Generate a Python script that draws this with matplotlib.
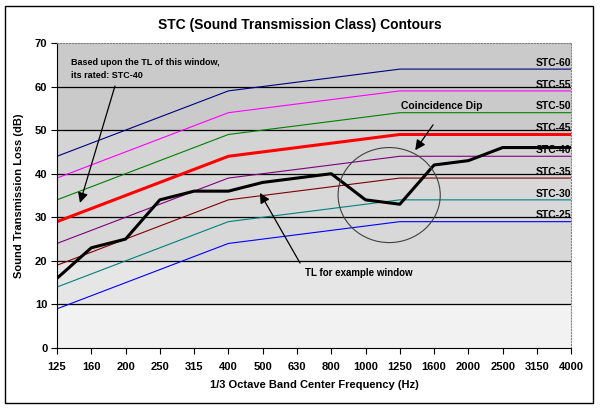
import numpy as np
import matplotlib
matplotlib.use("Agg")
import matplotlib.pyplot as plt
from matplotlib.patches import Ellipse, Rectangle

plt.rcParams['font.family'] = ['Liberation Sans', 'DejaVu Sans']
plt.rcParams['font.weight'] = 'bold'

freqs = ['125', '160', '200', '250', '315', '400', '500', '630', '800',
         '1000', '1250', '1600', '2000', '2500', '3150', '4000']

stc60 = [44, 47, 50, 53, 56, 59, 60, 61, 62, 63, 64, 64, 64, 64, 64, 64]
stc55 = [39, 42, 45, 48, 51, 54, 55, 56, 57, 58, 59, 59, 59, 59, 59, 59]
stc50 = [34, 37, 40, 43, 46, 49, 50, 51, 52, 53, 54, 54, 54, 54, 54, 54]
stc45 = [29, 32, 35, 38, 41, 44, 45, 46, 47, 48, 49, 49, 49, 49, 49, 49]
stc40 = [24, 27, 30, 33, 36, 39, 40, 41, 42, 43, 44, 44, 44, 44, 44, 44]
stc35 = [19, 22, 25, 28, 31, 34, 35, 36, 37, 38, 39, 39, 39, 39, 39, 39]
stc30 = [14, 17, 20, 23, 26, 29, 30, 31, 32, 33, 34, 34, 34, 34, 34, 34]
stc25 = [9, 12, 15, 18, 21, 24, 25, 26, 27, 28, 29, 29, 29, 29, 29, 29]
tl_window = [16, 23, 25, 34, 36, 36, 38, 39, 40, 34, 33, 42, 43, 46, 46, 46]

contours = [('STC-60', stc60, '#000080', 0.8),
            ('STC-55', stc55, '#ff00ff', 0.8),
            ('STC-50', stc50, '#008000', 0.8),
            ('STC-45', stc45, '#ff0000', 2.2),
            ('STC-40', stc40, '#800080', 0.8),
            ('STC-35', stc35, '#800000', 0.8),
            ('STC-30', stc30, '#008080', 0.8),
            ('STC-25', stc25, '#0000ff', 0.8)]

fig = plt.figure(figsize=(6, 4.09), dpi=100)
ax = fig.add_axes([0.095, 0.149, 0.857, 0.746])

x = np.arange(len(freqs))

# shaded background bands (rough stand-in for the dithered fill)
bands = [(0, 10, '#f2f2f2'), (10, 20, '#e6e6e6'), (20, 40, '#d8d8d8'),
         (40, 50, '#d4d4d4'), (50, 70, '#cacaca')]
for lo, hi, c in bands:
    ax.axhspan(lo, hi, color=c, lw=0, zorder=0)

for yv in range(10, 70, 10):
    ax.axhline(yv, color='black', lw=0.9, zorder=1)

for name, vals, col, lw in contours:
    ax.plot(x, vals, color=col, lw=lw, zorder=2)
    ax.text(x[-1], vals[-1] + 0.3, name, ha='right', va='bottom',
            fontsize=7.5, fontweight='bold', zorder=4)

ax.plot(x, tl_window, color='black', lw=2.2, zorder=3)

ax.add_patch(Ellipse((9.69, 35.1), 2.98, 21.8, fill=False,
                     edgecolor='#404040', lw=0.8, zorder=3))

arrow = dict(arrowstyle='-|>', color='black', lw=0.9,
             mutation_scale=15, shrinkA=0, shrinkB=0)
ax.annotate('', xy=(0.67, 33.3), xytext=(1.69, 60.1), arrowprops=arrow, zorder=5)
ax.annotate('', xy=(10.45, 45.4), xytext=(10.97, 51.2), arrowprops=arrow, zorder=5)
ax.annotate('', xy=(5.92, 35.6), xytext=(7.09, 19.5), arrowprops=arrow, zorder=5)

ax.text(0.41, 64.1, 'Based upon the TL of this window,\nits rated: STC-40',
        fontsize=6.5, fontweight='bold', ha='left', va='center', linespacing=1.6)
ax.text(10.04, 55.5, 'Coincidence Dip', fontsize=7.5, fontweight='bold',
        ha='left', va='center')
ax.text(7.24, 17.2, 'TL for example window', fontsize=7, fontweight='bold',
        ha='left', va='center')

ax.set_xlim(0, 15)
ax.set_ylim(0, 70)
ax.set_xticks(x)
ax.set_xticklabels(freqs, fontsize=8, fontweight='bold')
ax.set_yticks(range(0, 71, 10))
ax.set_yticklabels([str(v) for v in range(0, 71, 10)], fontsize=8, fontweight='bold')
ax.tick_params(length=4, width=0.8, pad=6)
ax.tick_params(axis='y', pad=3)

for s in ['top', 'right']:
    ax.spines[s].set_color('#808080')
    ax.spines[s].set_linestyle(':')
    ax.spines[s].set_linewidth(0.8)

ax.set_xlabel('1/3 Octave Band Center Frequency (Hz)', fontsize=8,
              fontweight='bold', labelpad=6)
ax.set_ylabel('Sound Transmission Loss (dB)', fontsize=8,
              fontweight='bold', labelpad=8)
fig.text(0.5, 0.939, 'STC (Sound Transmission Class) Contours', fontsize=10,
         fontweight='bold', ha='center', va='center')

fig.patches.append(Rectangle((5 / 600, 6 / 409), 588 / 600, 397 / 409,
                             transform=fig.transFigure, fill=False,
                             edgecolor='black', lw=1))

fig.savefig('out.png', dpi=100)
